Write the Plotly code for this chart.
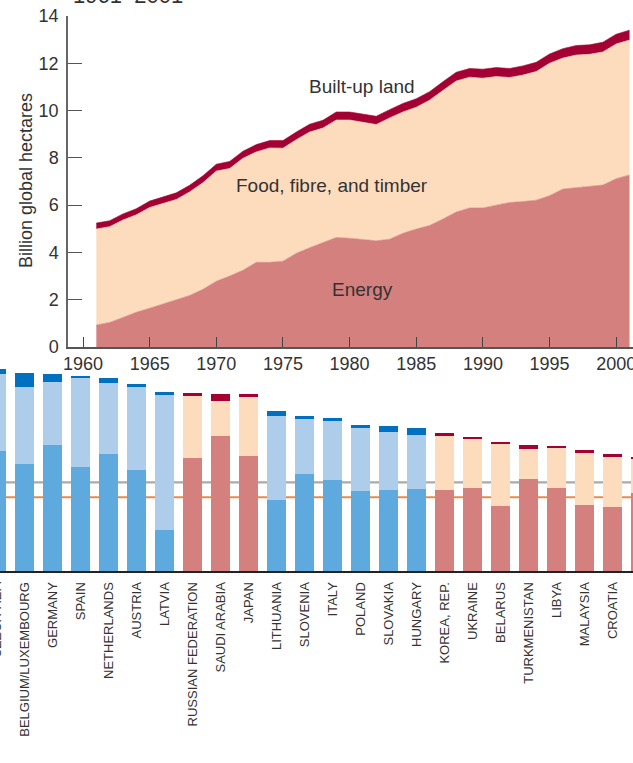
import plotly.graph_objects as go

# ---------------- data: world footprint by component, 1961-2001 -------------
years = list(range(1961, 2002))
energy = [0.93, 1.04, 1.25, 1.47, 1.64, 1.82, 1.97, 2.18, 2.44, 2.78,
          3.00, 3.25, 3.58, 3.58, 3.63, 3.96, 4.20, 4.42, 4.63, 4.60,
          4.54, 4.49, 4.56, 4.81, 4.99, 5.14, 5.41, 5.71, 5.88, 5.88,
          6.00, 6.11, 6.15, 6.21, 6.40, 6.68, 6.74, 6.78, 6.85, 7.12,
          7.28]
food_fibre_timber = [4.06, 4.05, 4.12, 4.12, 4.26, 4.25, 4.27, 4.38, 4.51, 4.66,
                     4.55, 4.73, 4.67, 4.84, 4.78, 4.81, 4.89, 4.84, 4.97, 5.00,
                     4.95, 4.92, 5.13, 5.13, 5.15, 5.30, 5.44, 5.54, 5.53, 5.49,
                     5.44, 5.29, 5.35, 5.44, 5.60, 5.54, 5.61, 5.60, 5.63, 5.70,
                     5.70]
built_up = [0.25, 0.25, 0.26, 0.26, 0.27, 0.27, 0.28, 0.28, 0.29, 0.29,
            0.30, 0.30, 0.31, 0.31, 0.32, 0.32, 0.33, 0.33, 0.34, 0.34,
            0.35, 0.35, 0.35, 0.36, 0.36, 0.36, 0.37, 0.37, 0.37, 0.38,
            0.38, 0.38, 0.39, 0.39, 0.39, 0.40, 0.40, 0.40, 0.41, 0.41,
            0.42]
year_ticks = [1960, 1965, 1970, 1975, 1980, 1985, 1990, 1995, 2000]
y_ticks = [0, 2, 4, 6, 8, 10, 12, 14]

# ---------------- data: footprint per person by country ---------------------
countries = ["CZECH REP.", "BELGIUM/LUXEMBOURG", "GERMANY", "SPAIN", "NETHERLANDS",
             "AUSTRIA", "LATVIA", "RUSSIAN FEDERATION", "SAUDI ARABIA", "JAPAN",
             "LITHUANIA", "SLOVENIA", "ITALY", "POLAND", "SLOVAKIA", "HUNGARY",
             "KOREA, REP.", "UKRAINE", "BELARUS", "TURKMENISTAN", "LIBYA",
             "MALAYSIA", "CROATIA", "SOUTH AFRICA"]
eu_member = [True, True, True, True, True, True, True, False, False, False,
             True, True, True, True, True, True, False, False, False, False,
             False, False, False, False]
c_energy = [2.98, 2.66, 3.13, 2.58, 2.90, 2.51, 1.02, 2.80, 3.35, 2.85,
            1.76, 2.41, 2.26, 1.99, 2.01, 2.03, 2.01, 2.06, 1.61, 2.28,
            2.06, 1.64, 1.59, 1.94]
c_food = [1.91, 1.91, 1.56, 2.21, 1.76, 2.06, 3.35, 1.54, 0.87, 1.46,
          2.08, 1.36, 1.46, 1.56, 1.44, 1.34, 1.34, 1.22, 1.54, 0.74,
          0.99, 1.29, 1.24, 0.84]
c_built = [0.12, 0.35, 0.20, 0.03, 0.12, 0.07, 0.07, 0.07, 0.17, 0.07,
           0.12, 0.07, 0.07, 0.07, 0.15, 0.17, 0.07, 0.05, 0.05, 0.10,
           0.05, 0.07, 0.07, 0.05]
world_footprint = 2.2
world_biocapacity = 1.83

# ---------------- styling -----------------------------------------------------
W, H = 633, 763
FONT = "Liberation Sans, Arial, Helvetica, sans-serif"
TXT = "#333333"
RED = {"energy": "#D3807E", "food": "#FDDCBE", "built": "#A50034"}
BLUE = {"energy": "#5EA9DD", "food": "#AECDEB", "built": "#0070C0"}

def py(px):  # pixel row -> paper y
    return 1 - px / H

def colors(key):
    return [BLUE[key] if e else RED[key] for e in eu_member]

fig = go.Figure()

# top: stacked areas
for name, vals, col in [("Energy", energy, RED["energy"]),
                        ("Food, fibre, and timber", food_fibre_timber, RED["food"]),
                        ("Built-up land", built_up, RED["built"])]:
    fig.add_trace(go.Scatter(x=years, y=vals, name=name, stackgroup="one",
                             mode="lines", line=dict(width=0.6, color=col),
                             fillcolor=col, xaxis="x", yaxis="y",
                             hoverinfo="x+y+name"))

# bottom: stacked bars
for key, vals in [("energy", c_energy), ("food", c_food), ("built", c_built)]:
    fig.add_trace(go.Bar(x=countries, y=vals, marker=dict(color=colors(key), line=dict(width=0)),
                         xaxis="x2", yaxis="y2", name=key))

x2_range = [0.125, 22.73]

fig.update_layout(
    template="none",
    width=W, height=H, autosize=False,
    margin=dict(l=0, r=0, t=0, b=0, pad=0, autoexpand=False),
    paper_bgcolor="white", plot_bgcolor="white",
    showlegend=False, barmode="stack", bargap=0.32,
    font=dict(family=FONT, color=TXT),
    xaxis=dict(domain=[68 / W, 1], range=[1958.875, 2001.26], anchor="y", automargin=False,
               tickvals=year_ticks, ticks="inside", ticklen=10, tickwidth=1.3,
               tickcolor="#444444", showline=True, linecolor="#555555", linewidth=1.5,
               showgrid=False, zeroline=False, tickfont=dict(size=18, color=TXT),
               ticklabelstandoff=0, ticklabeloverflow="allow"),
    yaxis=dict(domain=[py(347), py(16)], range=[0, 14], anchor="x", automargin=False,
               tickvals=y_ticks, ticks="inside", ticklen=14, tickwidth=1.3,
               tickcolor="#555555", showline=True, linecolor="#666666", linewidth=1.5,
               showgrid=False, zeroline=False, tickfont=dict(size=18, color=TXT),
               ticklabelstandoff=4, ticklabeloverflow="allow"),
    xaxis2=dict(domain=[0, 1], range=x2_range, anchor="y2", type="category", automargin=False,
                tickangle=-90, ticks="", showline=True, linecolor="#222222", linewidth=2,
                showgrid=False, zeroline=False, tickfont=dict(size=13, color=TXT),
                ticklabelstandoff=4, ticklabeloverflow="allow"),
    yaxis2=dict(domain=[py(571), py(360)], range=[0, 211 / 40.3], anchor="x2",
                automargin=False, visible=False),
)

# reference lines (behind bars)
for val, col in [(world_footprint, "#AAAAAA"), (world_biocapacity, "#E98A4B")]:
    fig.add_shape(type="line", xref="paper", yref="y2", x0=0, x1=1, y0=val, y1=val,
                  line=dict(color=col, width=2.2), layer="below")

ann = []
ann.append(dict(text="1961–2001", xref="paper", yref="paper", x=71 / W, y=1 + 5 / H,
                xanchor="left", yanchor="middle", showarrow=False,
                font=dict(size=22, color=TXT)))
ann.append(dict(text="Billion global hectares", xref="paper", yref="paper",
                x=26 / W, y=py(181), textangle=-90, showarrow=False,
                xanchor="center", yanchor="middle", font=dict(size=18, color=TXT)))
for text, xv, yv in [("Built-up land", 1980.9, 11.0),
                     ("Food, fibre, and timber", 1978.7, 6.85),
                     ("Energy", 1981.0, 2.45)]:
    ann.append(dict(text=text, x=xv, y=yv, xref="x", yref="y", showarrow=False,
                    xanchor="center", yanchor="middle", font=dict(size=19, color=TXT)))
# first category label lies just outside the visible range -> place on paper
first_x = (0 - x2_range[0]) / (x2_range[1] - x2_range[0])
ann.append(dict(text=countries[0], xref="paper", yref="paper", x=first_x, y=py(579),
                textangle=-90, xanchor="center", yanchor="top", showarrow=False,
                font=dict(size=13, color=TXT)))
fig.update_layout(annotations=ann)

fig.write_html("out.html", config={"displayModeBar": False},
               post_script="document.body.style.margin='0';document.body.style.overflow='hidden';")
